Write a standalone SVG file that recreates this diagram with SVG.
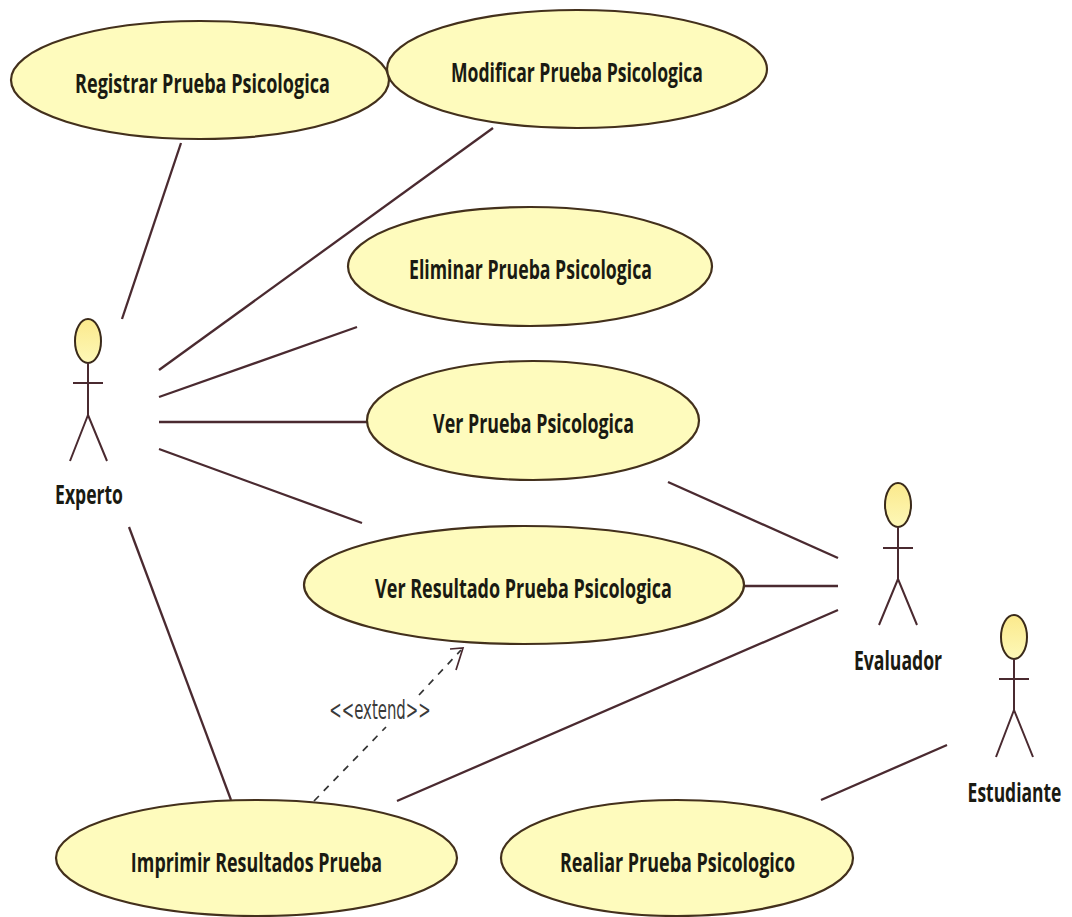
<svg xmlns="http://www.w3.org/2000/svg" width="1072" height="917" viewBox="0 0 1072 917">
<defs>
<linearGradient id="head" x1="0" y1="0" x2="0" y2="1"><stop offset="0" stop-color="#fbe98c"/><stop offset="1" stop-color="#fdf8b8"/></linearGradient>
</defs>
<style>
.u{fill:#fefbbd;stroke:#43301c;stroke-width:2.2}
.a{fill:url(#head);stroke:#3a2a1a;stroke-width:2}
.l{stroke:#4a2a30;stroke-width:2;fill:none}
.c{stroke:#4a2a30;stroke-width:2.3;fill:none}
.t{font-family:"Open Sans","Liberation Sans",sans-serif;font-weight:700;font-size:26px;fill:#1a1a12;text-anchor:middle}
.e{font-family:"DejaVu Sans","Liberation Sans",sans-serif;font-size:26px;fill:#3a3a3a;text-anchor:middle}
.d{stroke:#333;stroke-width:1.7;stroke-dasharray:7 7;fill:none}
</style>
<rect width="1072" height="917" fill="#ffffff"/>
<g id="connectors">
<line class="c" x1="181" y1="143" x2="122" y2="319"/>
<line class="c" x1="493" y1="128" x2="159" y2="370"/>
<line class="c" x1="357" y1="327" x2="159" y2="397"/>
<line class="c" x1="368" y1="422" x2="159" y2="422"/>
<line class="c" x1="362" y1="523" x2="159" y2="449"/>
<line class="c" x1="231" y1="800" x2="129" y2="527"/>
<line class="c" x1="668" y1="482" x2="838" y2="558"/>
<line class="c" x1="744" y1="586" x2="838" y2="586"/>
<line class="c" x1="397" y1="801" x2="838" y2="610"/>
<line class="c" x1="821" y1="800" x2="947" y2="745"/>
<path class="d" d="M314 801L386 727M419 695L461 650"/>
<path d="M450 649L463 648L456 670" stroke="#4a2a30" stroke-width="1.7" fill="none"/>
</g>
<g id="uc-registrar"><ellipse class="u" cx="200" cy="80" rx="189" ry="59"/><text class="t" transform="translate(202.5,93) scale(.7,1)" textLength="364" lengthAdjust="spacingAndGlyphs">Registrar Prueba Psicologica</text></g>
<g id="uc-modificar"><ellipse class="u" cx="577" cy="69" rx="190" ry="59"/><text class="t" transform="translate(577,82) scale(.7,1)" textLength="360" lengthAdjust="spacingAndGlyphs">Modificar Prueba Psicologica</text></g>
<g id="uc-eliminar"><ellipse class="u" cx="530" cy="266.5" rx="182" ry="59.5"/><text class="t" transform="translate(530.5,279) scale(.7,1)" textLength="347" lengthAdjust="spacingAndGlyphs">Eliminar Prueba Psicologica</text></g>
<g id="uc-ver"><ellipse class="u" cx="533" cy="420.5" rx="166" ry="59.5"/><text class="t" transform="translate(533.5,433) scale(.7,1)" textLength="287" lengthAdjust="spacingAndGlyphs">Ver Prueba Psicologica</text></g>
<g id="uc-resultado"><ellipse class="u" cx="524" cy="585" rx="220" ry="59"/><text class="t" transform="translate(523.5,598) scale(.7,1)" textLength="424" lengthAdjust="spacingAndGlyphs">Ver Resultado Prueba Psicologica</text></g>
<g id="uc-imprimir"><ellipse class="u" cx="256.5" cy="858" rx="200.5" ry="58"/><text class="t" transform="translate(256.5,872) scale(.7,1)" textLength="359" lengthAdjust="spacingAndGlyphs">Imprimir Resultados Prueba</text></g>
<g id="uc-realiar"><ellipse class="u" cx="677" cy="858" rx="176" ry="58"/><text class="t" transform="translate(677.5,872) scale(.7,1)" textLength="336" lengthAdjust="spacingAndGlyphs">Realiar Prueba Psicologico</text></g>
<g id="actor-experto">
<ellipse class="a" cx="88" cy="341" rx="13" ry="22"/>
<path class="l" d="M88 363V415M73 383H103M88 415L70 461M88 415L107 461"/>
<text class="t" transform="translate(89,504) scale(.7,1)" textLength="97" lengthAdjust="spacingAndGlyphs">Experto</text>
</g>
<g id="actor-evaluador">
<ellipse class="a" cx="898" cy="505" rx="13" ry="22"/>
<path class="l" d="M898 527V579M883 548H913M898 579L879 625M898 579L917 625"/>
<text class="t" transform="translate(898,670) scale(.7,1)" textLength="126" lengthAdjust="spacingAndGlyphs">Evaluador</text>
</g>
<g id="actor-estudiante">
<ellipse class="a" cx="1014" cy="637" rx="13" ry="22"/>
<path class="l" d="M1014 659V710M999 679H1029M1014 710L996 757M1014 710L1033 757"/>
<text class="t" transform="translate(1014.5,802) scale(.7,1)" textLength="134" lengthAdjust="spacingAndGlyphs">Estudiante</text>
</g>
<text class="e" transform="translate(380,719) scale(.57,1)" textLength="178" lengthAdjust="spacingAndGlyphs">&lt;&lt;extend&gt;&gt;</text>
</svg>
